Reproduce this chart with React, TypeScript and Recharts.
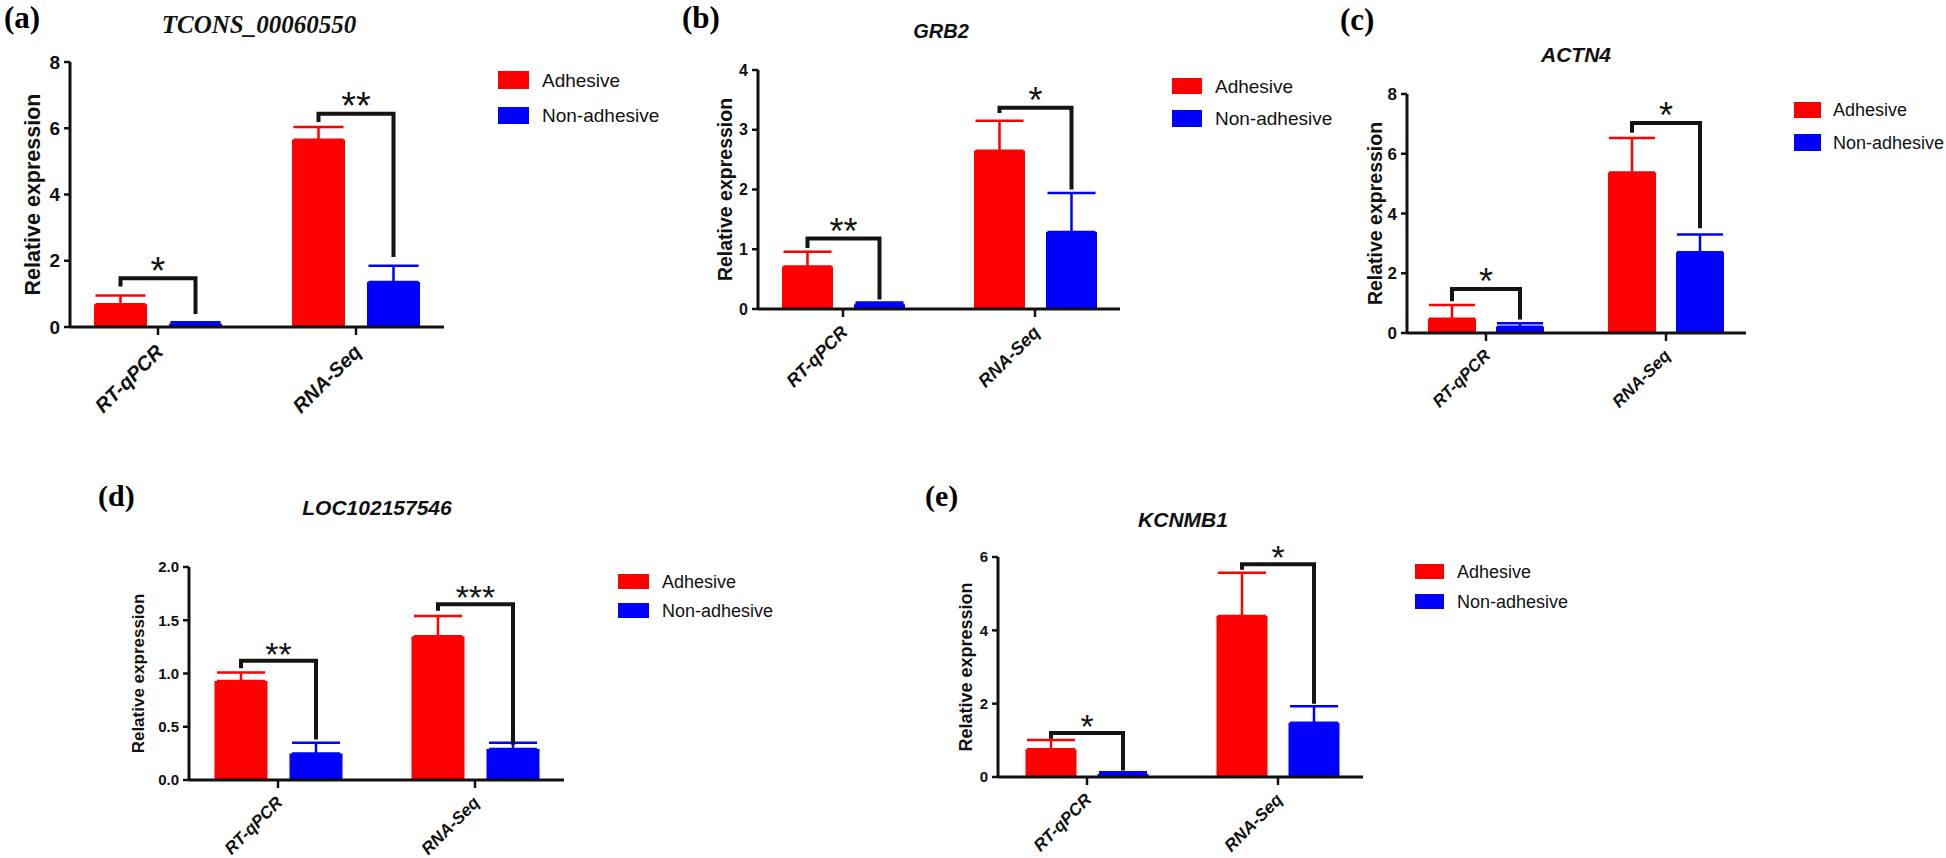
import React from 'react';
import { BarChart, Bar, XAxis, YAxis, ErrorBar, LabelList } from 'recharts';

// ---------- shared ----------
const categories = ['RT-qPCR', 'RNA-Seq'];
const seriesNames = ['Adhesive', 'Non-adhesive'];
const seriesColors = ['#ff0000', '#0000ff'];

// ---------- (a) TCONS_00060550 ----------
const aTitle = 'TCONS_00060550';
const aAdhesive = [0.69, 5.65];
const aAdhesiveErr = [0.26, 0.39];
const aNonAdhesive = [0.1, 1.36];
const aNonAdhesiveErr = [0.04, 0.49];
const aBracketTop = [1.47, 6.44];
const aBracketLeft = [1.22, 6.19];
const aBracketRight = [0.39, 2.11];
const aStars = ['*', '**'];
const aTicks = [0, 2, 4, 6, 8];

// ---------- (b) GRB2 ----------
const bTitle = 'GRB2';
const bAdhesive = [0.71, 2.65];
const bAdhesiveErr = [0.25, 0.5];
const bNonAdhesive = [0.08, 1.29];
const bNonAdhesiveErr = [0.03, 0.65];
const bBracketTop = [1.18, 3.37];
const bBracketLeft = [1.02, 3.28];
const bBracketRight = [0.16, 2.0];
const bStars = ['**', '*'];
const bTicks = [0, 1, 2, 3, 4];

// ---------- (c) ACTN4 ----------
const cTitle = 'ACTN4';
const cAdhesive = [0.48, 5.37];
const cAdhesiveErr = [0.46, 1.16];
const cNonAdhesive = [0.21, 2.7];
const cNonAdhesiveErr = [0.12, 0.6];
const cBracketTop = [1.47, 7.03];
const cBracketLeft = [1.06, 6.7];
const cBracketRight = [0.45, 3.51];
const cStars = ['*', '*'];
const cTicks = [0, 2, 4, 6, 8];

// ---------- (d) LOC102157546 ----------
const dTitle = 'LOC102157546';
const dAdhesive = [0.93, 1.35];
const dAdhesiveErr = [0.08, 0.19];
const dNonAdhesive = [0.25, 0.29];
const dNonAdhesiveErr = [0.1, 0.06];
const dBracketTop = [1.12, 1.65];
const dBracketLeft = [1.05, 1.59];
const dBracketRight = [0.38, 0.33];
const dStars = ['**', '***'];
const dTicks = [0, 0.5, 1, 1.5, 2];

// ---------- (e) KCNMB1 ----------
const eTitle = 'KCNMB1';
const eAdhesive = [0.76, 4.39];
const eAdhesiveErr = [0.25, 1.18];
const eNonAdhesive = [0.08, 1.48];
const eNonAdhesiveErr = [0.05, 0.45];
const eBracketTop = [1.2, 5.8];
const eBracketLeft = [1.04, 5.65];
const eBracketRight = [0.18, 2.0];
const eStars = ['*', '*'];
const eTicks = [0, 2, 4, 6];

const SANS = '"Liberation Sans", Arial, Helvetica, sans-serif';
const SERIF = '"Liberation Serif", "Times New Roman", Times, serif';

type PanelData = {
  adh: number[]; adhErr: number[]; non: number[]; nonErr: number[];
  top: number[]; left: number[]; right: number[]; stars: string[]; ticks: number[];
};

type Layout = {
  L: number; T: number; W: number; H: number; mt: number; yw: number; xh: number;
  padL: number; padR: number; barSize: number; barGap: number;
  tickFs: number; yLabelFs: number; yLabelX: number; xTickFs: number;
  starFs: number; errW: number; decimals: number;
};

const panels: { data: PanelData; lay: Layout }[] = [
  {
    data: { adh: aAdhesive, adhErr: aAdhesiveErr, non: aNonAdhesive, nonErr: aNonAdhesiveErr, top: aBracketTop, left: aBracketLeft, right: aBracketRight, stars: aStars, ticks: aTicks },
    lay: { L: 0, T: 0, W: 454, H: 427, mt: 62, yw: 70, xh: 100, padL: -11, padR: -11, barSize: 53, barGap: 22, tickFs: 19, yLabelFs: 21.5, yLabelX: 33, xTickFs: 20, starFs: 38, errW: 25, decimals: 0 },
  },
  {
    data: { adh: bAdhesive, adhErr: bAdhesiveErr, non: bNonAdhesive, nonErr: bNonAdhesiveErr, top: bBracketTop, left: bBracketLeft, right: bBracketRight, stars: bStars, ticks: bTicks },
    lay: { L: 690, T: 0, W: 440, H: 409, mt: 70, yw: 68, xh: 100, padL: -11, padR: -11, barSize: 51, barGap: 21, tickFs: 16, yLabelFs: 19.5, yLabelX: 35, xTickFs: 18, starFs: 36, errW: 24, decimals: 0 },
  },
  {
    data: { adh: cAdhesive, adhErr: cAdhesiveErr, non: cNonAdhesive, nonErr: cNonAdhesiveErr, top: cBracketTop, left: cBracketLeft, right: cBracketRight, stars: cStars, ticks: cTicks },
    lay: { L: 1340, T: 0, W: 416, H: 433, mt: 94, yw: 67, xh: 100, padL: -11, padR: -10, barSize: 48, barGap: 20, tickFs: 17, yLabelFs: 19.5, yLabelX: 35, xTickFs: 17, starFs: 36, errW: 23, decimals: 0 },
  },
  {
    data: { adh: dAdhesive, adhErr: dAdhesiveErr, non: dNonAdhesive, nonErr: dNonAdhesiveErr, top: dBracketTop, left: dBracketLeft, right: dBracketRight, stars: dStars, ticks: dTicks },
    lay: { L: 110, T: 480, W: 464, H: 378, mt: 87, yw: 79, xh: 78, padL: -9.5, padR: -9.5, barSize: 53, barGap: 22, tickFs: 15, yLabelFs: 17, yLabelX: 28, xTickFs: 17, starFs: 34, errW: 24, decimals: 1 },
  },
  {
    data: { adh: eAdhesive, adhErr: eAdhesiveErr, non: eNonAdhesive, nonErr: eNonAdhesiveErr, top: eBracketTop, left: eBracketLeft, right: eBracketRight, stars: eStars, ticks: eTicks },
    lay: { L: 940, T: 480, W: 433, H: 378, mt: 77, yw: 58, xh: 81, padL: -6.5, padR: -10.5, barSize: 51, barGap: 21, tickFs: 15, yLabelFs: 18, yLabelX: 26, xTickFs: 17, starFs: 34, errW: 24, decimals: 0 },
  },
];

// overlay texts (panel letters, titles, legends)
const letters = [
  { t: '(a)', x: 4, y: 28, fs: 31 },
  { t: '(b)', x: 682, y: 28, fs: 31 },
  { t: '(c)', x: 1340, y: 30, fs: 31 },
  { t: '(d)', x: 98, y: 506, fs: 30 },
  { t: '(e)', x: 925, y: 506, fs: 30 },
];
const titles = [
  { t: aTitle, x: 259, y: 33, fs: 25, serif: true },
  { t: bTitle, x: 941, y: 38, fs: 20, serif: false },
  { t: cTitle, x: 1576, y: 62, fs: 21, serif: false },
  { t: dTitle, x: 377, y: 515, fs: 21, serif: false },
  { t: eTitle, x: 1183, y: 527, fs: 21, serif: false },
];
const legends = [
  { x: 498, w: 31, y0: 71, h0: 18, y1: 107, h1: 17, tx: 542, fs: 19 },
  { x: 1172, w: 30, y0: 78, h0: 16, y1: 110, h1: 17, tx: 1215, fs: 19 },
  { x: 1794, w: 27, y0: 102, h0: 16, y1: 134, h1: 17, tx: 1833, fs: 18 },
  { x: 618, w: 31, y0: 574, h0: 15, y1: 603, h1: 15, tx: 662, fs: 18 },
  { x: 1415, w: 29, y0: 564, h0: 15, y1: 594, h1: 15, tx: 1457, fs: 18 },
];

function Panel({ data, lay }: { data: PanelData; lay: Layout }) {
  const rows = categories.map((c, i) => ({
    name: c,
    adhesive: data.adh[i],
    adhesiveErr: [0, data.adhErr[i]],
    nonAdhesive: data.non[i],
    nonAdhesiveErr: [0, data.nonErr[i]],
  }));
  const yMax = data.ticks[data.ticks.length - 1];
  const plotTop = lay.mt;
  const plotBottom = lay.H - lay.xh;

  const renderBracket = (props: any) => {
    const vb = props.viewBox && props.viewBox.width != null ? props.viewBox : props;
    const { x, y, width, height } = vb;
    let i = props.index;
    if (i == null) i = data.adh.indexOf(props.value);
    const v = data.adh[i];
    const bottom = y + height;
    const ppu = height / v;
    const Y = (val: number) => bottom - val * ppu;
    const cx1 = x + width / 2;
    const cx2 = cx1 + width + lay.barGap;
    const top = Y(data.top[i]);
    return (
      <g key={`br-${i}`}>
        <path
          d={`M${cx1},${Y(data.left[i])}V${top}H${cx2}V${Y(data.right[i])}`}
          stroke="#141414"
          strokeWidth={4}
          fill="none"
        />
        <text
          x={(cx1 + cx2) / 2}
          y={top + lay.starFs * 0.15}
          textAnchor="middle"
          fontSize={lay.starFs}
          fontFamily={SANS}
          fill="#141414"
        >
          {data.stars[i]}
        </text>
      </g>
    );
  };

  const XTick = (props: any) => {
    const { x, y, payload } = props;
    const fs = lay.xTickFs;
    return (
      <g transform={`translate(${x + fs * 0.32},${y + fs * 0.8})`}>
        <text
          transform="rotate(-45)"
          textAnchor="end"
          fontSize={fs}
          fontWeight="bold"
          fontStyle="italic"
          fontFamily={SANS}
          fill="#111"
        >
          {payload.value}
        </text>
      </g>
    );
  };

  const yLabel = () => (
    <text
      x={lay.yLabelX}
      y={(plotTop + plotBottom) / 2}
      transform={`rotate(-90, ${lay.yLabelX}, ${(plotTop + plotBottom) / 2})`}
      textAnchor="middle"
      dominantBaseline="central"
      fontSize={lay.yLabelFs}
      fontWeight="bold"
      fontFamily={SANS}
      fill="#111"
    >
      Relative expression
    </text>
  );

  return (
    <div style={{ position: 'absolute', left: lay.L, top: lay.T, width: lay.W, height: lay.H }}>
      <BarChart
        width={lay.W}
        height={lay.H}
        data={rows}
        margin={{ top: lay.mt, right: 10, bottom: 0, left: 0 }}
        barGap={lay.barGap}
        barSize={lay.barSize}
      >
        <XAxis
          dataKey="name"
          interval={0}
          height={lay.xh}
          padding={{ left: lay.padL, right: lay.padR }}
          tickSize={8}
          axisLine={{ stroke: '#111', strokeWidth: 3 }}
          tickLine={{ stroke: '#111', strokeWidth: 2.5 }}
          tick={<XTick />}
        />
        <YAxis
          width={lay.yw}
          domain={[0, yMax]}
          ticks={data.ticks}
          type="number"
          allowDataOverflow
          tickSize={6}
          tickMargin={4}
          axisLine={{ stroke: '#111', strokeWidth: 3 }}
          tickLine={{ stroke: '#111', strokeWidth: 2.5 }}
          tick={{ fill: '#111', fontSize: lay.tickFs, fontWeight: 'bold', fontFamily: SANS }}
          tickFormatter={(v: number) => v.toFixed(lay.decimals)}
          label={{ content: yLabel }}
        />
        <Bar dataKey="adhesive" name={seriesNames[0]} fill={seriesColors[0]} isAnimationActive={false}>
          <ErrorBar dataKey="adhesiveErr" width={lay.errW} strokeWidth={2.5} stroke={seriesColors[0]} direction="y" isAnimationActive={false} />
          <LabelList content={renderBracket} />
        </Bar>
        <Bar dataKey="nonAdhesive" name={seriesNames[1]} fill={seriesColors[1]} isAnimationActive={false}>
          <ErrorBar dataKey="nonAdhesiveErr" width={lay.errW} strokeWidth={2.5} stroke={seriesColors[1]} direction="y" isAnimationActive={false} />
        </Bar>
      </BarChart>
    </div>
  );
}

export default function App() {
  return (
    <div style={{ position: 'absolute', left: 0, top: 0, width: 1946, height: 858, background: '#fff', overflow: 'hidden' }}>
      {panels.map((p, i) => (
        <Panel key={i} data={p.data} lay={p.lay} />
      ))}
      <svg width={1946} height={858} style={{ position: 'absolute', left: 0, top: 0, pointerEvents: 'none' }}>
        {letters.map((l) => (
          <text key={l.t} x={l.x} y={l.y} fontSize={l.fs} fontWeight="bold" fontFamily={SERIF} fill="#000">
            {l.t}
          </text>
        ))}
        {titles.map((t) => (
          <text
            key={t.t}
            x={t.x}
            y={t.y}
            textAnchor="middle"
            fontSize={t.fs}
            fontWeight="bold"
            fontStyle="italic"
            fontFamily={t.serif ? SERIF : SANS}
            fill="#111"
          >
            {t.t}
          </text>
        ))}
        {legends.map((g, i) => (
          <g key={i}>
            <rect x={g.x} y={g.y0} width={g.w} height={g.h0} fill={seriesColors[0]} />
            <rect x={g.x} y={g.y1} width={g.w} height={g.h1} fill={seriesColors[1]} />
            <text x={g.tx} y={g.y0 + g.h0 / 2 + g.fs * 0.36} fontSize={g.fs} fontFamily={SANS} fill="#111">
              {seriesNames[0]}
            </text>
            <text x={g.tx} y={g.y1 + g.h1 / 2 + g.fs * 0.36} fontSize={g.fs} fontFamily={SANS} fill="#111">
              {seriesNames[1]}
            </text>
          </g>
        ))}
      </svg>
    </div>
  );
}
